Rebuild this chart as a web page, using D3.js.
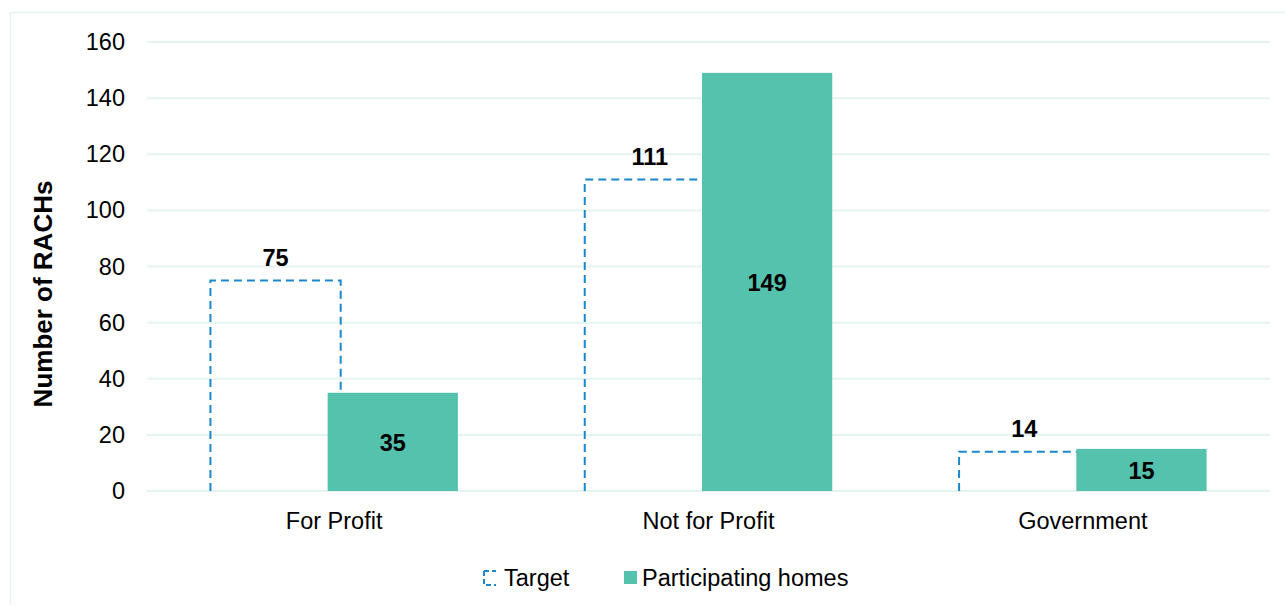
<!DOCTYPE html>
<html>
<head>
<meta charset="UTF-8">
<title>Number of RACHs</title>
<style>
  body { margin: 0; background: #fff; }
  svg text { font-family: "Liberation Sans", Arial, sans-serif; fill: #000; }
</style>
</head>
<body>
<svg id="chart" width="1285" height="605"></svg>
<script src="https://cdn.jsdelivr.net/npm/d3@7/dist/d3.min.js"></script>
<script>
const categories = ['For Profit', 'Not for Profit', 'Government'];
const target = [75, 111, 14];
const participating = [35, 149, 15];
const yTicks = [0, 20, 40, 60, 80, 100, 120, 140, 160];

const svg = d3.select('#chart');
const margin = {left: 147, right: 15, top: 42, bottom: 114};
const width = 1285, height = 605;
const fs = 23.5;

// outer frame
svg.append('rect')
  .attr('x', 10.5).attr('y', 12.5)
  .attr('width', 1290).attr('height', 600)
  .attr('fill', 'none').attr('stroke', '#e3f3ef').attr('stroke-width', 1.5);

const x = d3.scaleBand()
  .domain(categories)
  .range([margin.left, width - margin.right]);

const y = d3.scaleLinear()
  .domain([0, 160])
  .range([height - margin.bottom, margin.top]);

const barW = x.bandwidth() * 0.348;
const offset = barW * 0.9;

// gridlines
svg.append('g')
  .selectAll('line')
  .data(yTicks)
  .join('line')
  .attr('x1', margin.left).attr('x2', width - margin.right)
  .attr('y1', d => y(d)).attr('y2', d => y(d))
  .attr('stroke', '#e6f4f1').attr('stroke-width', 2);

// y axis labels
const yAxis = d3.axisLeft(y).tickValues(yTicks).tickSize(0).tickPadding(22);
svg.append('g')
  .attr('transform', `translate(${margin.left},0)`)
  .call(yAxis)
  .call(g => g.select('.domain').remove())
  .selectAll('text')
  .attr('font-size', fs)
  .attr('font-family', '"Liberation Sans", Arial, sans-serif')
  .attr('fill', '#000');

// x labels
svg.append('g')
  .selectAll('text')
  .data(categories)
  .join('text')
  .attr('x', d => x(d) + x.bandwidth() / 2)
  .attr('y', y(0) + 38)
  .attr('text-anchor', 'middle')
  .attr('font-size', fs)
  .text(d => d);

// y title
svg.append('text')
  .attr('transform', `translate(52,294) rotate(-90)`)
  .attr('text-anchor', 'middle')
  .attr('font-size', 26)
  .attr('font-weight', 'bold')
  .text('Number of RACHs');

const cx = d => x(d) + x.bandwidth() / 2;
const pair = (barW + offset);

// target dashed outlines
svg.append('g')
  .selectAll('path')
  .data(categories)
  .join('path')
  .attr('d', (d, i) => {
    const x0 = cx(d) - pair / 2, x1 = x0 + barW;
    return `M${x0},${y(0)}V${y(target[i])}H${x1}V${y(0)}`;
  })
  .attr('fill', 'none')
  .attr('stroke', '#1a88cc')
  .attr('stroke-width', 2)
  .attr('stroke-dasharray', '8,5');

// participating bars
svg.append('g')
  .selectAll('rect')
  .data(categories)
  .join('rect')
  .attr('x', d => cx(d) - pair / 2 + offset)
  .attr('y', (d, i) => y(participating[i]))
  .attr('width', barW)
  .attr('height', (d, i) => y(0) - y(participating[i]))
  .attr('fill', '#55c2ae');

// target labels
svg.append('g')
  .selectAll('text')
  .data(categories)
  .join('text')
  .attr('x', d => cx(d) - pair / 2 + barW / 2)
  .attr('y', (d, i) => y(target[i]) - 15)
  .attr('text-anchor', 'middle')
  .attr('font-size', fs)
  .attr('font-weight', 'bold')
  .text((d, i) => target[i]);

// participating labels
svg.append('g')
  .selectAll('text')
  .data(categories)
  .join('text')
  .attr('x', d => cx(d) - pair / 2 + offset + barW / 2)
  .attr('y', (d, i) => (y(0) + y(participating[i])) / 2 + 9)
  .attr('text-anchor', 'middle')
  .attr('font-size', fs)
  .attr('font-weight', 'bold')
  .text((d, i) => participating[i]);

// legend
const lg = svg.append('g').attr('transform', 'translate(483,578)');
lg.append('path')
  .attr('d', 'M1,-7H13M1,-7V7H13')
  .attr('fill', 'none').attr('stroke', '#1a88cc').attr('stroke-width', 2)
  .attr('stroke-dasharray', '5,3');
lg.append('text').attr('x', 21).attr('y', 8).attr('font-size', fs).text('Target');
lg.append('rect').attr('x', 141).attr('y', -7).attr('width', 13).attr('height', 13).attr('fill', '#55c2ae');
lg.append('text').attr('x', 159).attr('y', 8).attr('font-size', fs).text('Participating homes');
</script>
</body>
</html>
